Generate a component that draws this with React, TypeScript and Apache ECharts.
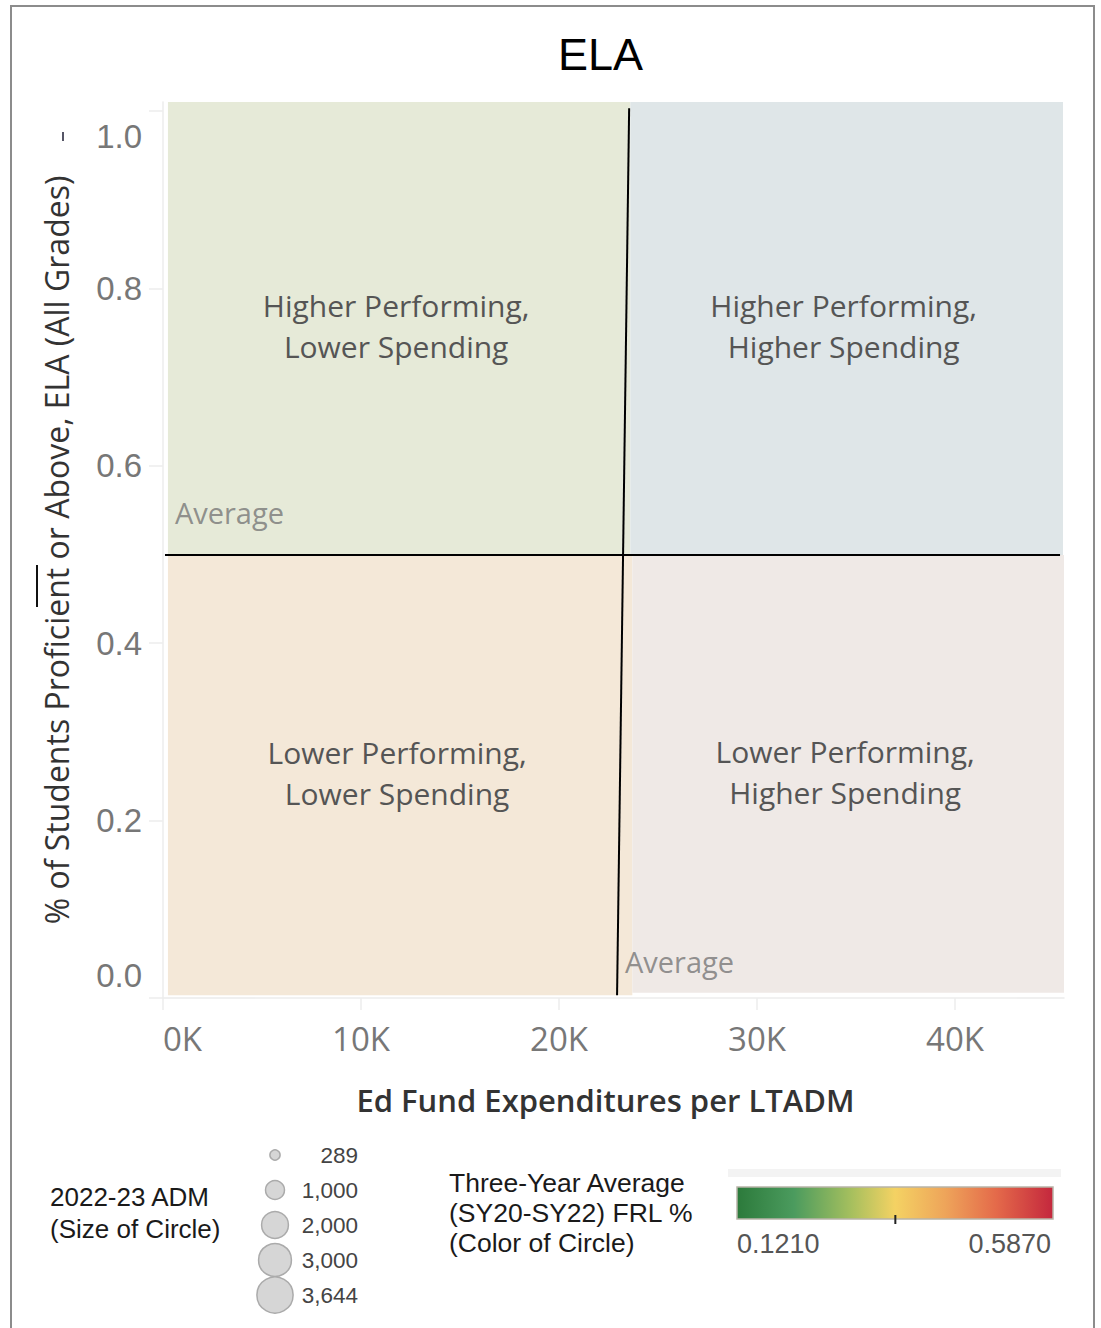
import React, { useEffect, useRef } from "react";
import * as echarts from "echarts";

// ---------- data ----------
const TITLE = "ELA";
const X_NAME = "Ed Fund Expenditures per LTADM";
const Y_NAME = "% of Students Proficient or Above, ELA (All Grades)";

const X_TICKS = [0, 10000, 20000, 30000, 40000];
const Y_TICKS = [0, 0.2, 0.4, 0.6, 0.8, 1.0];
const X_MIN = 0;
const X_MAX = 45500;
const Y_MIN = 0;
const Y_MAX = 1.01;

// average reference lines (vertical one is slightly slanted in the source)
const AVG_Y = 0.4995;
const AVG_X_BOTTOM = 22930;
const AVG_X_TOP = 23540;
const AVG_LABEL = "Average";

// quadrants: label, x0, x1, y0, y1
const QUADRANT_LABELS = [
  "Higher Performing,\nLower Spending",
  "Higher Performing,\nHigher Spending",
  "Lower Performing,\nLower Spending",
  "Lower Performing,\nHigher Spending",
];
const QUADRANT_X0 = [250, 23600, 250, 23700];
const QUADRANT_X1 = [23600, 45450, 23700, 45500];
const QUADRANT_Y0 = [0.4995, 0.4995, 0.003, 0.006];
const QUADRANT_Y1 = [1.01, 1.01, 0.4995, 0.4995];

// size legend (2022-23 ADM)
const SIZE_TITLE = "2022-23 ADM\n(Size of Circle)";
const SIZE_VALUES = [289, 1000, 2000, 3000, 3644];

// colour legend (FRL %)
const COLOR_TITLE = "Three-Year Average\n(SY20-SY22) FRL %\n(Color of Circle)";
const COLOR_MIN = 0.121;
const COLOR_MAX = 0.587;
const COLOR_CENTER = 0.3545;

// ---------- styles ----------
const QUADRANT_COLORS = ["#e6ead8", "#dfe6e8", "#f4e8d8", "#efe9e6"];
const GRADIENT_STOPS = [
  { offset: 0, color: "#2c7a3b" },
  { offset: 0.18, color: "#4b9b5e" },
  { offset: 0.36, color: "#a5bf5e" },
  { offset: 0.5, color: "#f4d263" },
  { offset: 0.66, color: "#eea45a" },
  { offset: 0.82, color: "#e46a4a" },
  { offset: 1, color: "#c4273d" },
];
const HUMANIST = "'Open Sans', 'Noto Sans', sans-serif";
const ARIAL = "'Liberation Sans', Arial, sans-serif";

export default function App() {
  const ref = useRef<HTMLDivElement>(null);

  useEffect(() => {
    if (!ref.current) return;
    const chart = echarts.init(ref.current, null, { renderer: "svg" });

    const quadAreas = QUADRANT_LABELS.map((label, i) => [
      {
        name: label,
        xAxis: QUADRANT_X0[i],
        yAxis: QUADRANT_Y0[i],
        itemStyle: { color: QUADRANT_COLORS[i], opacity: 1 },
      },
      { xAxis: QUADRANT_X1[i], yAxis: QUADRANT_Y1[i] },
    ]);

    // size legend graphics
    const sizeEls: any[] = [];
    SIZE_VALUES.forEach((v, i) => {
      const cy = 1155 + i * 35;
      const r = 0.3 * Math.sqrt(v);
      sizeEls.push({
        type: "circle",
        shape: { cx: 275, cy, r },
        style: { fill: "#d6d6d6", stroke: "#ababab", lineWidth: 1.5 },
      });
      sizeEls.push({
        type: "text",
        x: 358,
        y: cy,
        style: {
          text: v.toLocaleString("en-US"),
          fontSize: 22.5,
          fontFamily: ARIAL,
          fill: "#444",
          align: "right",
          verticalAlign: "middle",
        },
      });
    });

    const barX = 737;
    const barW = 316;
    const centerX =
      barX + ((COLOR_CENTER - COLOR_MIN) / (COLOR_MAX - COLOR_MIN)) * barW;

    chart.setOption({
      animation: false,
      title: {
        text: TITLE,
        left: 553,
        top: 27,
        textStyle: {
          fontSize: 45,
          fontWeight: "normal",
          color: "#000",
          fontFamily: ARIAL,
        },
      },
      grid: { left: 163, top: 102, right: 37, bottom: 330 },
      xAxis: {
        type: "value",
        min: X_MIN,
        max: X_MAX,
        interval: 10000,
        name: X_NAME,
        nameLocation: "middle",
        nameGap: 86,
        nameTextStyle: {
          fontSize: 31,
          fontWeight: 600,
          color: "#333",
          fontFamily: HUMANIST,
          padding: [0, 16, 0, 0],
        },
        axisLine: { show: true, lineStyle: { color: "#ececec", width: 1.5 } },
        axisTick: {
          show: true,
          length: 12,
          customValues: X_TICKS,
          lineStyle: { color: "#ececec", width: 1.5 },
        },
        axisLabel: {
          customValues: X_TICKS,
          formatter: (v: number) => `${v / 1000}K`,
          margin: 24,
          fontSize: 33,
          color: "#777",
          fontFamily: HUMANIST,
          alignMinLabel: "left",
        },
        splitLine: { show: false },
      },
      yAxis: {
        type: "value",
        min: Y_MIN,
        max: Y_MAX,
        interval: 0.2,
        name: Y_NAME,
        nameLocation: "middle",
        nameRotate: 90,
        nameGap: 91,
        nameTextStyle: {
          fontSize: 32,
          color: "#333",
          fontFamily: HUMANIST,
        },
        axisLine: { show: true, lineStyle: { color: "#ececec", width: 1.5 } },
        axisTick: {
          show: true,
          length: 14,
          customValues: Y_TICKS,
          lineStyle: { color: "#ececec", width: 1.5 },
        },
        axisLabel: {
          customValues: Y_TICKS,
          margin: 21,
          fontSize: 33,
          color: "#777",
          fontFamily: ARIAL,
          formatter: (v: number) => {
            const s = v.toFixed(1);
            if (Math.abs(v - 1) < 1e-9) return `{top|${s}}`;
            if (Math.abs(v) < 1e-9) return `{bot|${s}}`;
            return `{n|${s}}`;
          },
          rich: {
            n: { fontSize: 33, color: "#777", fontFamily: ARIAL },
            top: {
              fontSize: 33,
              color: "#777",
              fontFamily: ARIAL,
              padding: [52, 0, 0, 0],
            },
            bot: {
              fontSize: 33,
              color: "#777",
              fontFamily: ARIAL,
              padding: [0, 0, 46, 0],
            },
          },
        },
        splitLine: { show: false },
      },
      series: [
        {
          type: "scatter",
          name: "quadrants",
          data: [],
          silent: true,
          markArea: {
            silent: true,
            label: {
              show: true,
              position: "inside",
              fontSize: 30,
              lineHeight: 41,
              color: "#555",
              fontFamily: HUMANIST,
              offset: [-3, -2],
            },
            data: quadAreas,
          },
          markLine: {
            silent: true,
            symbol: "none",
            label: { show: false },
            lineStyle: { color: "#000", width: 2, type: "solid" },
            data: [
              [
                { coord: [AVG_X_BOTTOM, 0.003] },
                { coord: [AVG_X_TOP, 1.003] },
              ],
              [{ coord: [100, AVG_Y] }, { coord: [45300, AVG_Y] }],
            ],
          },
        },
        {
          type: "scatter",
          name: "average labels",
          symbolSize: 0,
          silent: true,
          data: [
            [600, 0.547, AVG_LABEL],
            [23330, 0.0406, AVG_LABEL],
          ],
          label: {
            show: true,
            position: "right",
            distance: 0,
            formatter: (p: any) => p.data[2],
            fontSize: 29,
            color: "#777",
            fontFamily: HUMANIST,
          },
          z: 5,
        },
      ],
      graphic: [
        {
          type: "rect",
          shape: { x: 11, y: 6, width: 1083, height: 1340 },
          style: { fill: "none", stroke: "#8c8c8c", lineWidth: 2 },
          z: -1,
          silent: true,
        },
        {
          type: "line",
          shape: { x1: 37, y1: 565, x2: 37, y2: 607 },
          style: { stroke: "#111", lineWidth: 2 },
        },
        {
          type: "line",
          shape: { x1: 63, y1: 132, x2: 63, y2: 141 },
          style: { stroke: "#556", lineWidth: 2 },
        },
        // size legend
        {
          type: "text",
          x: 50,
          y: 1213,
          style: {
            text: SIZE_TITLE,
            fontSize: 26,
            lineHeight: 32,
            fontFamily: ARIAL,
            fill: "#1a1a1a",
            align: "left",
            verticalAlign: "middle",
          },
        },
        ...sizeEls,
        // colour legend
        {
          type: "text",
          x: 449,
          y: 1213,
          style: {
            text: COLOR_TITLE,
            fontSize: 26.5,
            lineHeight: 30,
            fontFamily: ARIAL,
            fill: "#1a1a1a",
            align: "left",
            verticalAlign: "middle",
          },
        },
        {
          type: "rect",
          shape: { x: 728, y: 1169, width: 333, height: 8 },
          style: { fill: "#f3f3f3" },
        },
        {
          type: "rect",
          shape: { x: barX, y: 1187, width: barW, height: 32 },
          style: {
            fill: new echarts.graphic.LinearGradient(0, 0, 1, 0, GRADIENT_STOPS),
            stroke: "#b8b4a8",
            lineWidth: 1.5,
          },
        },
        {
          type: "line",
          shape: { x1: centerX, y1: 1215, x2: centerX, y2: 1224 },
          style: { stroke: "#222", lineWidth: 2 },
        },
        {
          type: "text",
          x: barX,
          y: 1244,
          style: {
            text: COLOR_MIN.toFixed(4),
            fontSize: 27,
            fontFamily: ARIAL,
            fill: "#555",
            align: "left",
            verticalAlign: "middle",
          },
        },
        {
          type: "text",
          x: barX + barW - 2,
          y: 1244,
          style: {
            text: COLOR_MAX.toFixed(4),
            fontSize: 27,
            fontFamily: ARIAL,
            fill: "#555",
            align: "right",
            verticalAlign: "middle",
          },
        },
      ],
    });

    return () => chart.dispose();
  }, []);

  return (
    <div
      ref={ref}
      style={{
        position: "fixed",
        left: 0,
        top: 0,
        width: 1101,
        height: 1328,
        background: "#fff",
      }}
    />
  );
}
